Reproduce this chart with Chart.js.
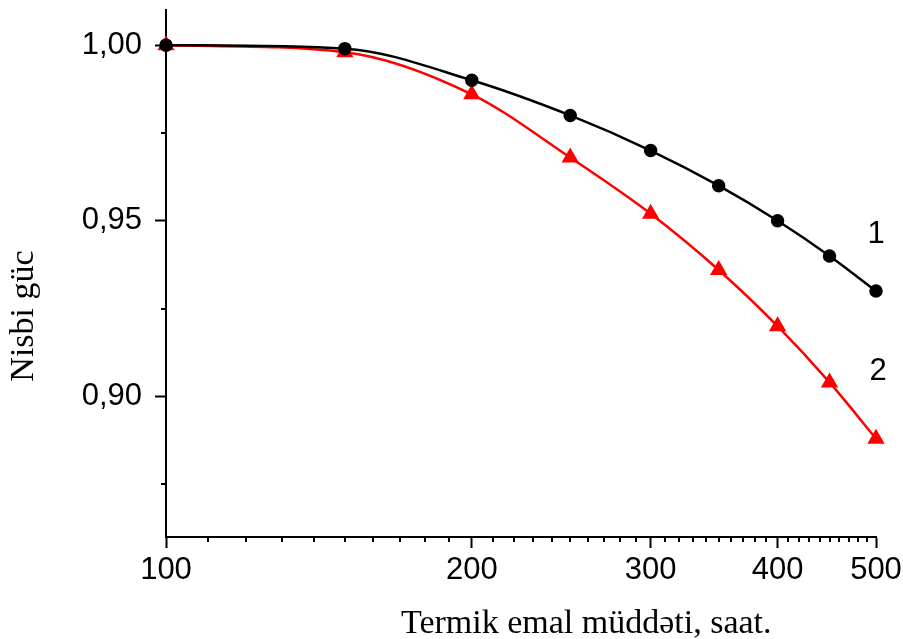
<!DOCTYPE html>
<html>
<head>
<meta charset="utf-8">
<script src="https://cdn.jsdelivr.net/npm/chart.js@4.4.1/dist/chart.umd.min.js"></script>
<style>
  body { margin: 0; background: #fff; }
  canvas { display: block; }
</style>
</head>
<body>
<canvas id="powerChart" width="903" height="639"></canvas>
<script>
  // termik emal müddəti (saat) və nisbi güc
  const hours = [100, 150, 200, 250, 300, 350, 400, 450, 500];
  const series1 = [1.000, 0.999, 0.990, 0.980, 0.970, 0.960, 0.950, 0.940, 0.930];
  const series2 = [1.000, 0.998, 0.986, 0.968, 0.952, 0.936, 0.920, 0.904, 0.888];
  const xMajorTicks = [100, 200, 300, 400, 500];
  const yMajorTicks = [0.90, 0.95, 1.00];
  const yMinorTicks = [0.875, 0.925, 0.975];
  const seriesNames = ['1', '2'];

  const xAllTicks = [];
  for (let v = 100; v <= 500; v += 10) xAllTicks.push(v);

  const tickFont = {family: 'Liberation Sans, Arial, sans-serif', size: 31};
  const titleFont = '34px "Liberation Serif", "Times New Roman", serif';

  // minor ticks, axis titles and curve numbers
  const extras = {
    id: 'extras',
    afterDraw(chart) {
      const c = chart.ctx;
      const xs = chart.scales.x, ys = chart.scales.y;
      const area = chart.chartArea;
      c.save();
      c.strokeStyle = '#000';
      c.lineWidth = 2;
      c.beginPath();
      xAllTicks.filter(v => !xMajorTicks.includes(v)).forEach(v => {
        const px = Math.round(xs.getPixelForValue(v));
        c.moveTo(px, area.bottom);
        c.lineTo(px, area.bottom + 5);
      });
      yMinorTicks.forEach(v => {
        const py = Math.round(ys.getPixelForValue(v));
        c.moveTo(area.left, py);
        c.lineTo(area.left - 5, py);
      });
      c.stroke();

      c.fillStyle = '#000';
      c.font = titleFont;
      c.textAlign = 'left';
      c.textBaseline = 'alphabetic';
      c.fillText('Termik emal müddəti, saat.', area.left + 235, 633);

      c.save();
      c.translate(24, 316);
      c.rotate(-Math.PI / 2);
      c.textAlign = 'center';
      c.textBaseline = 'middle';
      c.fillText('Nisbi güc', 0, 0);
      c.restore();

      c.font = '31px "Liberation Sans", Arial, sans-serif';
      c.textAlign = 'center';
      c.textBaseline = 'middle';
      c.fillText(seriesNames[0], xs.getPixelForValue(500), ys.getPixelForValue(0.946));
      c.fillText(seriesNames[1], xs.getPixelForValue(500) + 2, ys.getPixelForValue(0.907));
      c.restore();
    }
  };

  const ctx = document.getElementById('powerChart').getContext('2d');
  new Chart(ctx, {
    type: 'line',
    data: {
      datasets: [{
        label: seriesNames[0],
        data: hours.map((h, i) => ({x: h, y: series1[i]})),
        borderColor: '#000',
        backgroundColor: '#000',
        borderWidth: 2.5,
        pointStyle: 'circle',
        pointRadius: 5.5,
        cubicInterpolationMode: 'monotone',
        clip: false
      }, {
        label: seriesNames[1],
        data: hours.map((h, i) => ({x: h, y: series2[i]})),
        borderColor: '#ff0000',
        backgroundColor: '#ff0000',
        borderWidth: 2.5,
        pointStyle: 'triangle',
        pointRadius: 7.5,
        cubicInterpolationMode: 'monotone',
        clip: false
      }]
    },
    options: {
      responsive: false,
      animation: false,
      layout: {padding: {top: 10, right: 27, left: 0, bottom: 0}},
      plugins: {
        legend: {display: false},
        tooltip: {enabled: false}
      },
      scales: {
        x: {
          type: 'logarithmic',
          min: 100,
          max: 500,
          afterBuildTicks: scale => {
            scale.ticks = xMajorTicks.map(v => ({value: v}));
          },
          afterFit: scale => {
            scale.height = 102;
            scale.paddingLeft = 0;
            scale.paddingRight = 0;
          },
          ticks: {
            autoSkip: false,
            maxRotation: 0,
            padding: 4,
            color: '#000',
            font: tickFont,
            callback: v => String(v)
          },
          grid: {drawOnChartArea: false, tickLength: 11, tickWidth: 2, tickColor: '#000'},
          border: {display: true, color: '#000', width: 2}
        },
        y: {
          min: 0.86,
          max: 1.01,
          afterBuildTicks: scale => {
            scale.ticks = yMajorTicks.map(v => ({value: v}));
          },
          afterFit: scale => {
            scale.width = 166;
            scale.paddingTop = 0;
            scale.paddingBottom = 0;
          },
          ticks: {
            padding: 13,
            color: '#000',
            font: tickFont,
            callback: v => v.toFixed(2).replace('.', ',')
          },
          grid: {drawOnChartArea: false, tickLength: 11, tickWidth: 2, tickColor: '#000'},
          border: {display: true, color: '#000', width: 2}
        }
      }
    },
    plugins: [extras]
  });
</script>
</body>
</html>
